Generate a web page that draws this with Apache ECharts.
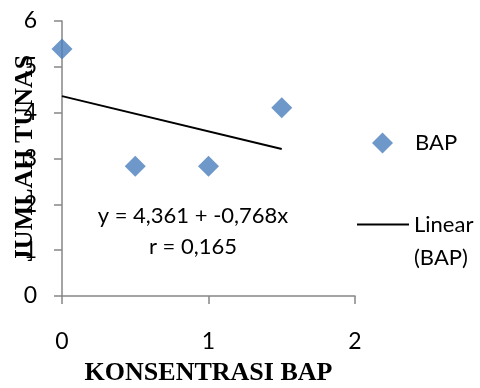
<!DOCTYPE html>
<html>
<head>
<meta charset="utf-8">
<script src="https://cdn.jsdelivr.net/npm/echarts@6/dist/echarts.min.js"></script>
<style>
  html, body { margin: 0; padding: 0; background: #fff; }
  #chart { width: 480px; height: 388px; }
</style>
</head>
<body>
<div id="chart"></div>
<script>
const konsentrasi = [0, 0.5, 1, 1.5];
const jumlahTunas = [5.39, 2.83, 2.83, 4.11];
const trendX = [0, 1.5];
const trendY = [4.361, 3.209];
const xTicks = [0, 1, 2];
const yTicks = [0, 1, 2, 3, 4, 5, 6];
const equationLines = ['y = 4,361 + -0,768x', 'r = 0,165'];

const sans = 'Lato';
const serif = '"Liberation Serif", "DejaVu Serif", serif';
const axisGray = '#868686';

const option = {
    backgroundColor: '#fff',
    animation: false,
    grid: { left: 62, right: 125, top: 21, bottom: 92, outerBoundsMode: 'none', containLabel: false },
    xAxis: {
        type: 'value',
        min: xTicks[0],
        max: xTicks[xTicks.length - 1],
        interval: 1,
        name: 'KONSENTRASI BAP',
        nameLocation: 'middle',
        nameGap: 64,
        nameMoveOverlap: false,
        nameTextStyle: { fontFamily: serif, fontWeight: 'bold', fontSize: 26, color: '#000' },
        axisLine: { onZero: false, lineStyle: { color: axisGray, width: 1.5 } },
        axisTick: { show: true, inside: false, length: 8, lineStyle: { color: axisGray, width: 1.5 } },
        axisLabel: { margin: 34, fontFamily: sans, fontSize: 23, color: '#000' },
        splitLine: { show: false }
    },
    yAxis: {
        type: 'value',
        min: yTicks[0],
        max: yTicks[yTicks.length - 1],
        interval: 1,
        name: 'JUMLAH TUNAS',
        nameLocation: 'middle',
        nameRotate: 90,
        nameGap: 24,
        nameMoveOverlap: false,
        nameTextStyle: { fontFamily: serif, fontWeight: 'bold', fontSize: 26, color: '#000' },
        axisLine: { show: true, lineStyle: { color: axisGray, width: 1.5 } },
        axisTick: { show: true, inside: false, length: 8, lineStyle: { color: axisGray, width: 1.5 } },
        axisLabel: { margin: 25, fontFamily: sans, fontSize: 23, color: '#000' },
        splitLine: { show: false }
    },
    legend: [
        {
            data: ['BAP'],
            orient: 'vertical',
            left: 372,
            top: 132,
            padding: 0,
            itemWidth: 21,
            itemHeight: 21,
            selectedMode: false,
            formatter: function (name) { return '{pad|}' + name; },
            textStyle: {
                fontFamily: sans, fontSize: 22, color: '#000',
                rich: { pad: { width: 17 } }
            }
        },
        {
            data: ['Linear (BAP)'],
            orient: 'vertical',
            left: 356,
            top: 175,
            padding: 0,
            itemWidth: 52,
            itemHeight: 17,
            selectedMode: false,
            itemStyle: { opacity: 0 },
            lineStyle: { color: '#000', width: 2 },
            formatter: function () { return '\nLinear\n(BAP)'; },
            textStyle: { fontFamily: sans, fontSize: 22, color: '#000', lineHeight: 33 }
        }
    ],
    graphic: [
        {
            type: 'text',
            x: 193, y: 216,
            style: { text: equationLines[0], font: '22px ' + sans, fill: '#000', textAlign: 'center', textVerticalAlign: 'middle' }
        },
        {
            type: 'text',
            x: 193, y: 247,
            style: { text: equationLines[1], font: '22px ' + sans, fill: '#000', textAlign: 'center', textVerticalAlign: 'middle' }
        }
    ],
    series: [
        {
            name: 'Linear (BAP)',
            type: 'line',
            data: trendX.map((x, i) => [x, trendY[i]]),
            symbol: 'none',
            lineStyle: { color: '#000', width: 2 },
            itemStyle: { color: '#000' },
            z: 2
        },
        {
            name: 'BAP',
            type: 'scatter',
            data: konsentrasi.map((x, i) => [x, jumlahTunas[i]]),
            symbol: 'diamond',
            symbolSize: 21,
            itemStyle: { color: '#4a7ebb' },
            z: 3
        }
    ]
};

const chart = echarts.init(document.getElementById('chart'));
chart.setOption(option);
</script>
</body>
</html>
